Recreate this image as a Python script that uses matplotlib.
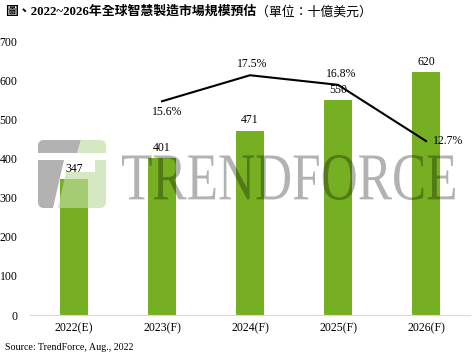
import matplotlib
matplotlib.use('Agg')
import matplotlib.pyplot as plt
from matplotlib.patches import Polygon, FancyBboxPatch, PathPatch
from matplotlib.textpath import TextPath
from matplotlib.font_manager import FontProperties
import matplotlib.transforms as mtransforms

plt.rcParams['font.family'] = ['Liberation Serif', 'Noto Sans CJK TC']

years = ['2022(E)', '2023(F)', '2024(F)', '2025(F)', '2026(F)']
market = [347, 401, 471, 550, 620]
growth_years = [1, 2, 3, 4]
growth = [15.6, 17.5, 16.8, 12.7]

W, H = 472, 356
fig = plt.figure(figsize=(W / 100, H / 100), dpi=100)
ax = fig.add_axes([30 / W, 1 - 315 / H, 440 / W, 274 / H])

x = range(len(years))
bars = ax.bar(x, market, width=0.32, color='#76af22', zorder=2)
ax.bar_label(bars, padding=3, fontsize=8.5, zorder=5)

ax.set_xlim(-0.5, 4.5)
ax.set_ylim(0, 700)
ax.set_yticks(range(0, 701, 100))
ax.set_xticks(list(x))
ax.set_xticklabels(years)
ax.tick_params(axis='both', length=0, labelsize=8.5)
ax.tick_params(axis='y', pad=9)
ax.tick_params(axis='x', pad=5)
for s in ['top', 'right', 'left']:
    ax.spines[s].set_visible(False)
ax.spines['bottom'].set_color('#d9d9d9')

# growth rate line on hidden secondary axis
ax2 = ax.twinx()
ax2.plot(growth_years, growth, color='black', lw=1.5)
ax2.set_ylim(0, 20)
ax2.axis('off')
offsets = [(5, -11, 'center', 'center'), (2, 11, 'center', 'center'),
           (3, 11, 'center', 'center'), (7, 0, 'left', 'center')]
for gx, gy, (dx, dy, ha, va) in zip(growth_years, growth, offsets):
    ax2.annotate(f'{gy}%', (gx, gy), xytext=(dx * 0.72, dy * 0.72),
                 textcoords='offset points', ha=ha, va=va, fontsize=8.5)

# watermark, in pixel coords (y down)
pix = mtransforms.Affine2D().scale(1 / W, -1 / H).translate(0, 1) + fig.transFigure
clip = FancyBboxPatch((38, 140), 68, 68, boxstyle='round,pad=0,rounding_size=6',
                      transform=pix)
shapes = [
    ([(38, 140), (81, 140), (77, 153), (38, 153)], 'black', 0.3),
    ([(81, 140), (106, 140), (106, 153), (77, 153)], '#c0dca0', 0.65),
    ([(38, 160), (64, 160), (53, 208), (38, 208)], 'black', 0.3),
    ([(95, 160), (106, 160), (106, 208), (58, 208), (66, 172), (95, 172)], '#c0dca0', 0.65),
]
for pts, c, a in shapes:
    p = Polygon(pts, closed=True, facecolor=c, edgecolor='none', alpha=a,
                transform=pix, zorder=3, clip_on=True)
    ax.add_artist(p)
    p.set_clip_path(clip)

tp = TextPath((0, 0), 'TRENDFORCE', size=1, prop=FontProperties(family='Liberation Serif'))
bb = tp.get_extents()
tr = (mtransforms.Affine2D().translate(-bb.x0, -bb.y0)
      .scale(333 / bb.width, -45 / bb.height).translate(122, 200) + pix)
ax.add_artist(PathPatch(tp, facecolor='black', edgecolor='none', alpha=0.3,
                        transform=tr, zorder=3, clip_on=False))

# title
t1 = fig.text(5 / W, 1 - 12 / H, '圖、2022~2026年全球智慧製造市場規模預估',
              fontsize=9.3, fontweight='bold', va='center', ha='left')
fig.text(0, 0, '', fontsize=1)
plt.gca()
ax.annotate('（單位：十億美元）', xy=(1, 0.5), xycoords=t1, va='center', ha='left',
            fontsize=9.3, annotation_clip=False)

fig.text(5 / W, 1 - 347 / H, 'Source: TrendForce, Aug., 2022', fontsize=7.2,
         va='center', ha='left')

fig.savefig('out.png', dpi=100)
